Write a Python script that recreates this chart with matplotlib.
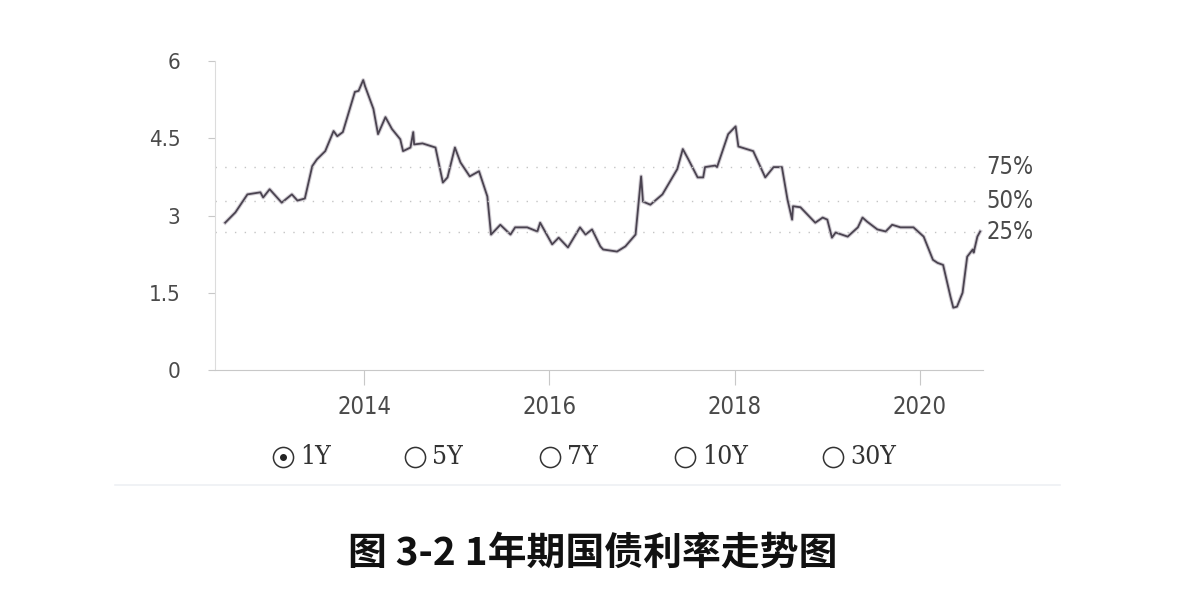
import numpy as np
import matplotlib.pyplot as plt
from matplotlib.lines import Line2D

# 1年期国债利率 (decimal year, %)
dates = [2012.50, 2012.61, 2012.74, 2012.88, 2012.91, 2012.98, 2013.11, 2013.22, 2013.28, 2013.36,
         2013.44, 2013.49, 2013.58, 2013.67, 2013.71, 2013.77, 2013.90, 2013.94, 2013.99, 2014.01,
         2014.10, 2014.15, 2014.23, 2014.30, 2014.39, 2014.42, 2014.50, 2014.53, 2014.54, 2014.63,
         2014.77, 2014.85, 2014.90, 2014.98, 2015.04, 2015.14, 2015.24, 2015.33, 2015.37, 2015.47,
         2015.58, 2015.63, 2015.76, 2015.87, 2015.90, 2016.03, 2016.10, 2016.20, 2016.33, 2016.39,
         2016.46, 2016.55, 2016.58, 2016.73, 2016.82, 2016.93, 2016.99, 2017.01, 2017.09, 2017.22,
         2017.38, 2017.44, 2017.50, 2017.60, 2017.66, 2017.68, 2017.79, 2017.81, 2017.93, 2018.01,
         2018.04, 2018.20, 2018.33, 2018.42, 2018.51, 2018.57, 2018.62, 2018.63, 2018.71, 2018.87,
         2018.95, 2019.00, 2019.05, 2019.09, 2019.22, 2019.33, 2019.38, 2019.43, 2019.54, 2019.63,
         2019.70, 2019.79, 2019.93, 2020.04, 2020.14, 2020.19, 2020.25, 2020.33, 2020.36, 2020.40,
         2020.46, 2020.51, 2020.57, 2020.58, 2020.62, 2020.65]
yields = [2.86, 3.06, 3.41, 3.45, 3.35, 3.51, 3.25, 3.41, 3.29, 3.33,
          3.96, 4.09, 4.25, 4.64, 4.54, 4.62, 5.40, 5.42, 5.63, 5.51,
          5.07, 4.58, 4.91, 4.68, 4.48, 4.25, 4.32, 4.62, 4.38, 4.40,
          4.32, 3.64, 3.74, 4.32, 4.03, 3.76, 3.86, 3.37, 2.63, 2.82,
          2.63, 2.77, 2.77, 2.69, 2.86, 2.44, 2.57, 2.38, 2.77, 2.63,
          2.73, 2.40, 2.34, 2.30, 2.40, 2.63, 3.76, 3.27, 3.21, 3.41,
          3.90, 4.29, 4.09, 3.74, 3.74, 3.94, 3.97, 3.94, 4.58, 4.73,
          4.34, 4.25, 3.74, 3.94, 3.94, 3.31, 2.92, 3.18, 3.16, 2.86,
          2.96, 2.92, 2.57, 2.67, 2.59, 2.77, 2.96, 2.88, 2.73, 2.69,
          2.82, 2.77, 2.77, 2.59, 2.14, 2.08, 2.04, 1.42, 1.21, 1.23,
          1.50, 2.20, 2.34, 2.28, 2.59, 2.69]

pct_labels = ['75%', '50%', '25%']
pct_values = [3.94, 3.29, 2.67]

yticks = [0, 1.5, 3, 4.5, 6]
ytick_labels = ['0', '1.5', '3', '4.5', '6']
xticks = [2014, 2016, 2018, 2020]
xtick_labels = ['2014', '2016', '2018', '2020']

legend_names = ['1Y', '5Y', '7Y', '10Y', '30Y']
legend_selected = '1Y'

plt.rcParams['font.family'] = ['Noto Sans CJK SC', 'DejaVu Sans']
tick_font = ['Liberation Sans Narrow', 'DejaVu Sans']

fig = plt.figure(figsize=(11.8, 5.94), dpi=100)
ax = fig.add_axes([0.1822, 0.3771, 0.6508, 0.5202])

ax.plot(dates, yields, color='#bdb7c0', lw=2.8, alpha=0.7, solid_joinstyle='round')
ax.plot(dates, yields, color='#4a4350', lw=1.3, solid_joinstyle='round')

for lab, v in zip(pct_labels, pct_values):
    ax.axhline(v, color='#c4c4c4', lw=1.0, ls=(0, (1, 6)))
    ax.text(1.004, v, lab, transform=ax.get_yaxis_transform(), ha='left', va='center',
            fontsize=17, color='#4a4a4a', family=tick_font, fontstretch='condensed',
            fontweight='light')

ax.set_xlim(2012.39, 2020.68)
ax.set_ylim(0, 6)
ax.set_yticks(yticks)
ax.set_yticklabels(ytick_labels)
ax.set_xticks(xticks)
ax.set_xticklabels(xtick_labels)

for s in ['top', 'right']:
    ax.spines[s].set_visible(False)
ax.spines['left'].set_color('#dcdcdc')
ax.spines['bottom'].set_color('#c8c8c8')
ax.tick_params(axis='y', length=5, width=0.8, color='#c8c8c8', pad=20,
               labelsize=16, labelcolor='#4a4a4a', labelfontfamily=tick_font)
ax.tick_params(axis='x', length=11, width=0.8, color='#c8c8c8', pad=7,
               labelsize=17, labelcolor='#4a4a4a', labelfontfamily=tick_font)
for lbl in ax.get_xticklabels() + ax.get_yticklabels():
    lbl.set_fontstretch('condensed')
    lbl.set_fontweight('light')

# radio-button legend
legend_x = [283, 415, 550, 685, 833]
ly = 1 - 457 / 594
for name, px in zip(legend_names, legend_x):
    fx = px / 1180
    fig.add_artist(Line2D([fx], [ly], marker='o', ms=14.5, mfc='none', mec='#333333',
                          mew=1.1, transform=fig.transFigure))
    if name == legend_selected:
        fig.add_artist(Line2D([fx], [ly], marker='o', ms=4, mfc='#222222', mec='#222222',
                              transform=fig.transFigure))
    fig.text(fx + 17 / 1180, ly, name, ha='left', va='center', fontsize=19,
             color='#333333', family=['DejaVu Serif'], fontstretch='condensed')

fig.add_artist(Line2D([115 / 1180, 1060 / 1180], [1 - 485 / 594] * 2, color='#eef0f4',
                      lw=1.2, transform=fig.transFigure))

fig.text(593 / 1180, 1 - 553 / 594, '图 3-2 1年期国债利率走势图', ha='center', va='center',
         fontsize=28, fontweight='bold', color='#111111')

fig.savefig('out.png', dpi=100)
